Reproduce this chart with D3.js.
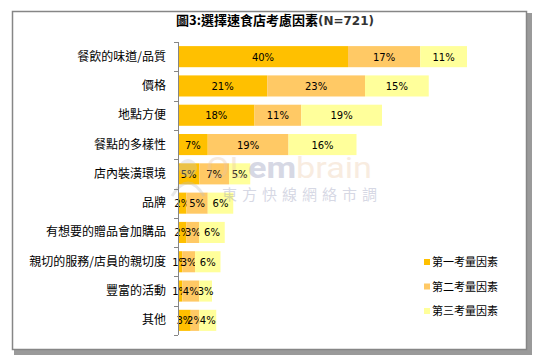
<!DOCTYPE html>
<html>
<head>
<meta charset="utf-8">
<script src="https://cdn.jsdelivr.net/npm/d3@7"></script>
<style>
  body { margin: 0; background: #fff; }
  svg { display: block; }
</style>
</head>
<body>
<div id="viz"></div>
<script>
const width = 537;
const height = 363;

// categories, top to bottom
const categories = ["餐飲的味道/品質", "價格", "地點方便", "餐點的多樣性", "店內裝潢環境",
  "品牌", "有想要的贈品會加購品", "親切的服務/店員的親切度", "豐富的活動", "其他"];
const seriesNames = ["第一考量因素", "第二考量因素", "第三考量因素"];
const first  = [40, 21, 18, 7, 5, 2, 2, 1, 1, 3];
const second = [17, 23, 11, 19, 7, 5, 3, 3, 4, 2];
const third  = [11, 15, 19, 16, 5, 6, 6, 6, 3, 4];
const colors = ["#FFC000", "#FFC965", "#FFFF9B"];

const svg = d3.select("#viz").append("svg")
  .attr("width", width).attr("height", height)
  .attr("viewBox", [0, 0, width, height]);

// frame with a drop shadow on right/bottom
svg.append("rect").attr("x", 14).attr("y", 13).attr("width", 518).attr("height", 342)
  .attr("fill", "#9a9a9a");
svg.append("rect").attr("x", 12.5).attr("y", 11.5).attr("width", 514).attr("height", 338)
  .attr("fill", "#fff").attr("stroke", "#868686").attr("stroke-width", 1.5);

// title
svg.append("text").attr("x", 275).attr("y", 25).attr("text-anchor", "middle")
  .attr("font-family", "'Noto Sans CJK TC', sans-serif").attr("font-weight", "bold")
  .attr("font-size", 13).attr("fill", "#000")
  .text("圖3:選擇速食店考慮因素")
  .append("tspan").attr("font-family", "'DejaVu Sans', sans-serif").attr("font-size", 12)
  .attr("fill", "#333").text("(N=721)");

const x0 = 178;
const x = d3.scaleLinear().domain([0, 100]).range([x0, x0 + 425]);
const y = d3.scaleBand().domain(categories).range([42, 335])
  .paddingInner(0.28).paddingOuter(0.14);

const stacked = d3.stack().keys([0, 1, 2])
  .value((i, k) => [first, second, third][k][i])(d3.range(categories.length));

const layers = svg.selectAll("g.layer").data(stacked).join("g")
  .attr("class", "layer").attr("fill", (d, k) => colors[k]);

layers.selectAll("rect").data(d => d).join("rect")
  .attr("x", d => x(d[0]))
  .attr("y", (d, i) => y(categories[i]))
  .attr("width", d => x(d[1]) - x(d[0]))
  .attr("height", y.bandwidth());

// faint watermark over the bars
const wm = svg.append("g").attr("opacity", 0.35);
wm.append("circle").attr("cx", 188).attr("cy", 168).attr("r", 9).attr("fill", "#c8c8c8");
wm.append("path").attr("d", "M172,196 Q188,170 204,196").attr("fill", "none")
  .attr("stroke", "#c0c0c0").attr("stroke-width", 3);
const wmText = wm.append("text").attr("x", 206).attr("y", 178)
  .attr("font-family", "Roboto, sans-serif").attr("font-size", 30)
  .attr("textLength", 166).attr("lengthAdjust", "spacingAndGlyphs");
wmText.append("tspan").attr("fill", "#e8c4a4").text("OL");
wmText.append("tspan").attr("fill", "#8d91b3").attr("font-weight", "bold").text("em");
wmText.append("tspan").attr("fill", "#edc9a8").text("brain");
wm.append("text").attr("x", 222).attr("y", 200).attr("fill", "#8d91b3")
  .attr("font-family", "'Noto Sans CJK TC', sans-serif")
  .attr("font-size", 15).attr("letter-spacing", 5).text("東方快線網絡市調");

layers.selectAll("text").data(d => d).join("text")
  .attr("x", d => (x(d[0]) + x(d[1])) / 2)
  .attr("y", (d, i) => y(categories[i]) + y.bandwidth() / 2 + 4)
  .attr("text-anchor", "middle")
  .attr("font-family", "'DejaVu Sans', sans-serif").attr("font-size", 10)
  .attr("fill", "#000")
  .text(d => (d[1] - d[0]) + "%");

// vertical axis with ticks between categories
const axis = svg.append("g").attr("stroke", "#868686");
axis.append("line").attr("x1", x0 + 0.5).attr("x2", x0 + 0.5)
  .attr("y1", 42).attr("y2", 335);
axis.selectAll("line.tick").data(d3.range(categories.length + 1)).join("line")
  .attr("class", "tick")
  .attr("x1", x0 - 4).attr("x2", x0)
  .attr("y1", i => Math.round(42 + i * y.step()) + 0.5)
  .attr("y2", i => Math.round(42 + i * y.step()) + 0.5);

svg.append("g").selectAll("text").data(categories).join("text")
  .attr("x", 166)
  .attr("y", d => y(d) + y.bandwidth() / 2 + 4)
  .attr("text-anchor", "end")
  .attr("font-family", "'Noto Sans CJK TC', sans-serif").attr("font-size", 12)
  .attr("fill", "#000")
  .text(d => d);

// legend
const legend = svg.append("g").selectAll("g").data(seriesNames).join("g")
  .attr("transform", (d, i) => `translate(424, ${259 + i * 24.5})`);
legend.append("rect").attr("width", 6).attr("height", 6).attr("fill", (d, i) => colors[i]);
legend.append("text").attr("x", 8).attr("y", 7)
  .attr("font-family", "'Noto Sans CJK TC', sans-serif").attr("font-size", 11)
  .attr("fill", "#000").text(d => d);
</script>
</body>
</html>
